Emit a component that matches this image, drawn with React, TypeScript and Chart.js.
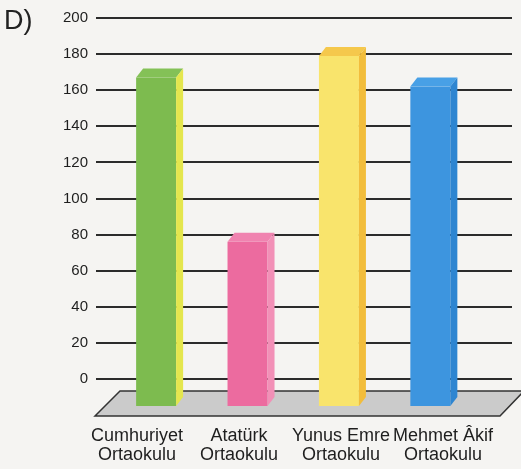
import { useEffect, useRef } from "react";
import { Chart, registerables } from "chart.js";

Chart.register(...registerables);

// ---- data ----
const schoolLine1 = ["Cumhuriyet", "Atatürk", "Yunus Emre", "Mehmet Âkif"];
const schoolLine2 = ["Ortaokulu", "Ortaokulu", "Ortaokulu", "Ortaokulu"];
const studentCounts = [172, 81, 184, 167];
const yMin = 0;
const yMax = 200;
const yStep = 20;
const panelLabel = "D)";

// ---- styles ----
const frontColors = ["#7dbb4f", "#ec6b9f", "#f9e46c", "#3d95df"];
const topColors = ["#84c157", "#f083b0", "#f5c84c", "#48a0e6"];
const sideColors = ["#e4e64e", "#f290b7", "#f2bd3c", "#2e85d1"];
const FONT = "'Liberation Sans', Arial, sans-serif";

const bar3dPlugin = {
  id: "bar3d",
  beforeDraw(chart: any) {
    const { ctx, width, height } = chart;
    ctx.save();
    ctx.fillStyle = "#f5f4f2";
    ctx.fillRect(0, 0, width, height);
    ctx.restore();
  },
  beforeDatasetsDraw(chart: any) {
    const { ctx, chartArea } = chart;
    const z = chart.scales.y.getPixelForValue(0);
    const l = chartArea.left;
    const r = chartArea.right;
    ctx.save();
    ctx.beginPath();
    ctx.moveTo(l - 1, z + 37);
    ctx.lineTo(l + 24, z + 12);
    ctx.lineTo(r + 12, z + 12);
    ctx.lineTo(r - 12, z + 37);
    ctx.closePath();
    ctx.fillStyle = "#cbcbcb";
    ctx.fill();
    ctx.strokeStyle = "#333";
    ctx.lineWidth = 1.5;
    ctx.stroke();
    ctx.restore();
  },
  afterDatasetsDraw(chart: any) {
    const { ctx } = chart;
    const z = chart.scales.y.getPixelForValue(0);
    const floorY = z + 27;
    const dx = 7;
    const dy = 9;
    const meta = chart.getDatasetMeta(0);
    ctx.save();
    meta.data.forEach((el: any, i: number) => {
      const w = el.width;
      const left = el.x - w / 2;
      const right = el.x + w / 2;
      const top = el.y;
      ctx.fillStyle = frontColors[i];
      ctx.fillRect(left, top + dy, right - dx - left, floorY - top - dy);
      ctx.beginPath();
      ctx.moveTo(left, top + dy);
      ctx.lineTo(left + dx, top);
      ctx.lineTo(right, top);
      ctx.lineTo(right - dx, top + dy);
      ctx.closePath();
      ctx.fillStyle = topColors[i];
      ctx.fill();
      ctx.beginPath();
      ctx.moveTo(right - dx, top + dy);
      ctx.lineTo(right, top);
      ctx.lineTo(right, floorY - dy);
      ctx.lineTo(right - dx, floorY);
      ctx.closePath();
      ctx.fillStyle = sideColors[i];
      ctx.fill();
    });
    ctx.restore();
  },
  afterDraw(chart: any) {
    const { ctx } = chart;
    ctx.save();
    ctx.fillStyle = "#222";
    ctx.font = `27px ${FONT}`;
    ctx.textBaseline = "alphabetic";
    ctx.textAlign = "left";
    ctx.fillText(panelLabel, 4, 29);
    ctx.restore();
  },
};

export default function App() {
  const canvasRef = useRef<HTMLCanvasElement | null>(null);

  useEffect(() => {
    document.body.style.margin = "0";
    const canvas = canvasRef.current;
    if (!canvas) return;
    const idx = studentCounts.map((_, i) => i);
    const chart = new Chart(canvas, {
      type: "bar",
      data: {
        datasets: [
          {
            data: studentCounts.map((v, i) => ({ x: i, y: v })),
            backgroundColor: "rgba(0,0,0,0)",
            borderWidth: 0,
            barThickness: 47,
            xAxisID: "x",
            yAxisID: "y",
          } as any,
        ],
      },
      options: {
        animation: false,
        responsive: true,
        maintainAspectRatio: false,
        layout: { padding: { top: 18, right: 9, bottom: 0, left: 0 } },
        plugins: {
          legend: { display: false },
          tooltip: { enabled: false },
        },
        scales: {
          x: {
            type: "linear",
            display: false,
            offset: false,
            min: -0.696,
            max: 3.855,
            grid: { offset: false },
            afterBuildTicks: (axis: any) => {
              axis.ticks = idx.map((v) => ({ value: v }));
            },
          },
          xl: {
            type: "linear",
            position: "bottom",
            offset: false,
            min: -0.402,
            max: 3.676,
            grid: { display: false, drawTicks: false, offset: false },
            border: { display: false },
            afterBuildTicks: (axis: any) => {
              axis.ticks = idx.map((v) => ({ value: v }));
            },
            afterFit: (axis: any) => {
              axis.height = 90;
              axis.paddingLeft = 0;
              axis.paddingRight = 0;
            },
            ticks: {
              maxRotation: 0,
              autoSkip: false,
              padding: 48,
              color: "#1e1e1e",
              font: { family: FONT, size: 18, lineHeight: 1.05 },
              callback: (value: any) => {
                const i = Math.round(Number(value));
                return [schoolLine1[i], schoolLine2[i]];
              },
            },
          },
          y: {
            type: "linear",
            min: yMin,
            max: yMax,
            grid: { color: "#2b2b2b", lineWidth: 2, drawTicks: false },
            border: { display: false },
            afterFit: (axis: any) => {
              axis.width = 96;
              axis.paddingTop = 0;
              axis.paddingBottom = 0;
            },
            ticks: {
              stepSize: yStep,
              padding: 8,
              color: "#1e1e1e",
              font: { family: FONT, size: 15 },
            },
          },
        } as any,
      },
      plugins: [bar3dPlugin],
    });
    return () => chart.destroy();
  }, []);

  return (
    <div style={{ position: "fixed", left: 0, top: 0, width: 521, height: 469 }}>
      <canvas ref={canvasRef} />
    </div>
  );
}
